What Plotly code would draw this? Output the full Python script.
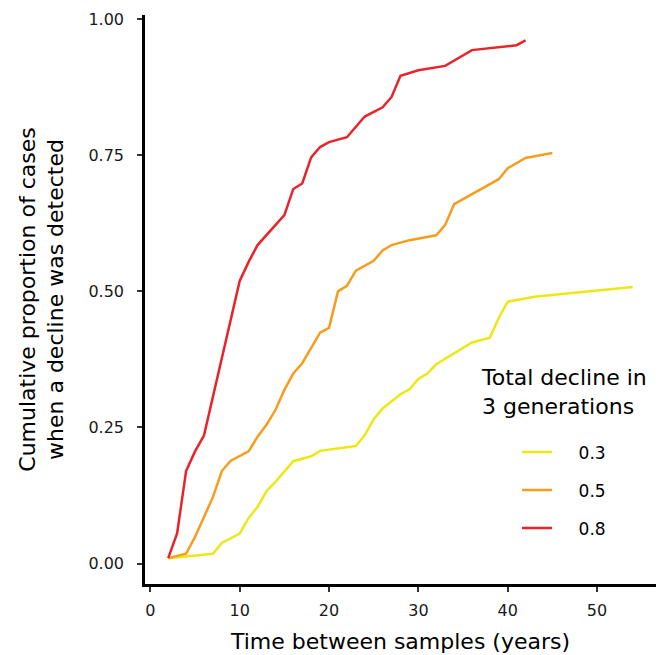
import plotly.graph_objects as go

# Data
x_03 = [2, 7, 8, 10, 11, 12, 13, 14, 16, 18, 19, 21, 23, 24, 25, 26, 28, 29, 30, 31, 32, 36, 38, 39, 40, 43, 54]
y_03 = [0.01, 0.018, 0.038, 0.055, 0.084, 0.104, 0.133, 0.150, 0.188, 0.197, 0.207, 0.212, 0.216, 0.236, 0.265, 0.285, 0.311, 0.320, 0.339, 0.349, 0.366, 0.406, 0.415, 0.451, 0.481, 0.490, 0.508]

x_05 = [2, 4, 5, 6, 7, 8, 9, 11, 12, 13, 14, 15, 16, 17, 18, 19, 20, 21, 22, 23, 25, 26, 27, 29, 32, 33, 34, 39, 40, 42, 45]
y_05 = [0.01, 0.018, 0.049, 0.086, 0.122, 0.170, 0.189, 0.206, 0.233, 0.255, 0.282, 0.319, 0.349, 0.368, 0.395, 0.424, 0.433, 0.500, 0.510, 0.538, 0.556, 0.575, 0.585, 0.594, 0.603, 0.622, 0.660, 0.706, 0.726, 0.745, 0.754]

x_08 = [2, 3, 4, 5, 6, 7, 8, 9, 10, 11, 12, 15, 16, 17, 18, 19, 20, 22, 24, 26, 27, 28, 30, 33, 36, 41, 42]
y_08 = [0.01, 0.056, 0.170, 0.206, 0.235, 0.305, 0.375, 0.445, 0.519, 0.554, 0.585, 0.640, 0.688, 0.698, 0.746, 0.765, 0.774, 0.783, 0.821, 0.838, 0.857, 0.896, 0.906, 0.914, 0.943, 0.952, 0.961]

series_names = ["0.3", "0.5", "0.8"]
series_colors = ["#EEE716", "#F79D1E", "#E8242A"]
x_ticks = [0, 10, 20, 30, 40, 50]
y_ticks = [0, 0.25, 0.5, 0.75, 1.0]
y_tick_labels = ["0.00", "0.25", "0.50", "0.75", "1.00"]
legend_title = "Total decline in<br>3 generations"

FONT = "DejaVu Sans"
PAD = "\u00a0\u00a0\u00a0\u00a0"

fig = go.Figure()
for i, (xs, ys) in enumerate([(x_03, y_03), (x_05, y_05), (x_08, y_08)]):
    fig.add_trace(go.Scatter(
        x=xs, y=ys, mode="lines", name=PAD + series_names[i],
        legendgroup=series_names[i],
        line=dict(color=series_colors[i], width=2.5),
    ))

axis_common = dict(
    showline=True, linecolor="black", linewidth=2.5,
    ticks="outside", ticklen=5, tickwidth=2, tickcolor="#333333",
    showgrid=False, zeroline=False, mirror=False,
    tickfont=dict(family=FONT, size=16, color="#1a1a1a"),
)

fig.update_xaxes(
    range=[-0.6, 56.6], tickvals=x_ticks, ticklabelstandoff=5,
    title=dict(text="Time between samples (years)", font=dict(family=FONT, size=22, color="black"), standoff=15),
    **axis_common,
)
fig.update_yaxes(
    range=[-0.0375, 1.0075], tickvals=y_ticks, ticktext=y_tick_labels, ticklabelstandoff=10,
    title=dict(text="Cumulative proportion of cases<br>when a decline was detected", font=dict(family=FONT, size=22, color="black"), standoff=19),
    **axis_common,
)

fig.add_annotation(
    text=legend_title, xref="paper", yref="paper",
    x=0.653, y=0.3374, xanchor="left", yanchor="middle", align="left",
    showarrow=False, font=dict(family=FONT, size=22, color="black"),
)

fig.update_layout(
    width=662, height=655,
    margin=dict(l=145, r=6, t=15, b=71),
    plot_bgcolor="white", paper_bgcolor="white",
    font=dict(family=FONT, color="black"),
    legend=dict(
        font=dict(family=FONT, size=17, color="black"),
        x=0.728, y=0.263, xanchor="left", yanchor="top",
        bgcolor="rgba(0,0,0,0)", tracegroupgap=13,
        itemwidth=30,
    ),
)

fig.write_html("out.html")
